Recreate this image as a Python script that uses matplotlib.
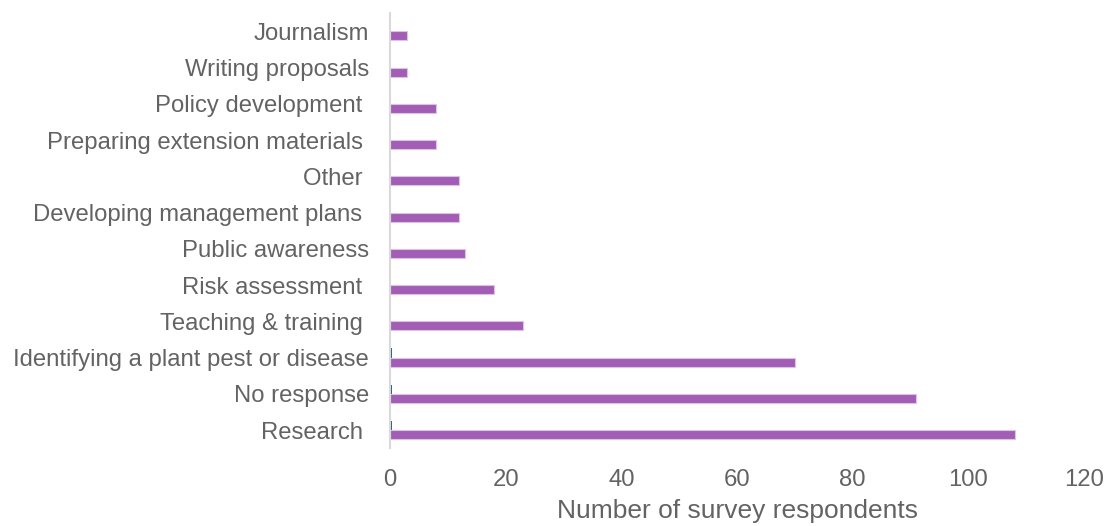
import matplotlib
matplotlib.use("Agg")
import matplotlib.pyplot as plt
import numpy as np

plt.rcParams['font.family'] = ['Liberation Sans', 'DejaVu Sans']

categories = ["Research ", "No response", "Identifying a plant pest or disease",
              "Teaching & training ", "Risk assessment ", "Public awareness",
              "Developing management plans ", "Other ", "Preparing extension materials ",
              "Policy development ", "Writing proposals", "Journalism"]
main_values = [108, 91, 70, 23, 18, 13, 12, 12, 8, 8, 3, 3]
minor_values = [0.3, 0.3, 0.3, 0, 0, 0, 0, 0, 0, 0, 0, 0]
x_ticks = [0, 20, 40, 60, 80, 100, 120]
x_label = "Number of survey respondents"

fig = plt.figure(figsize=(11.10, 5.26), dpi=100)
ax = fig.add_axes([0.3514, 0.148, 0.6252, 0.827])

y = np.arange(len(categories))
h = 0.25
ax.barh(y + h / 2, minor_values, height=h, color="#2E5F8A")
ax.barh(y - h / 2, main_values, height=h, color="#A25EB5", edgecolor="#DCC3E6", linewidth=0.8)

ax.set_xlim(0, 120)
ax.set_ylim(-0.5, len(categories) - 0.5)
ax.set_xticks(x_ticks)
ax.set_yticks(y)
ax.set_yticklabels(categories)
ax.tick_params(axis='both', length=0, labelsize=17.2, colors="#636363")
ax.tick_params(axis='x', pad=15)
ax.tick_params(axis='y', pad=15)

for s in ["top", "right", "bottom"]:
    ax.spines[s].set_visible(False)
ax.spines["left"].set_color("#D9D9D9")
ax.spines["left"].set_linewidth(1.5)

ax.set_xlabel(x_label, fontsize=19, color="#636363", labelpad=6)

fig.savefig("out.png", dpi=100)
